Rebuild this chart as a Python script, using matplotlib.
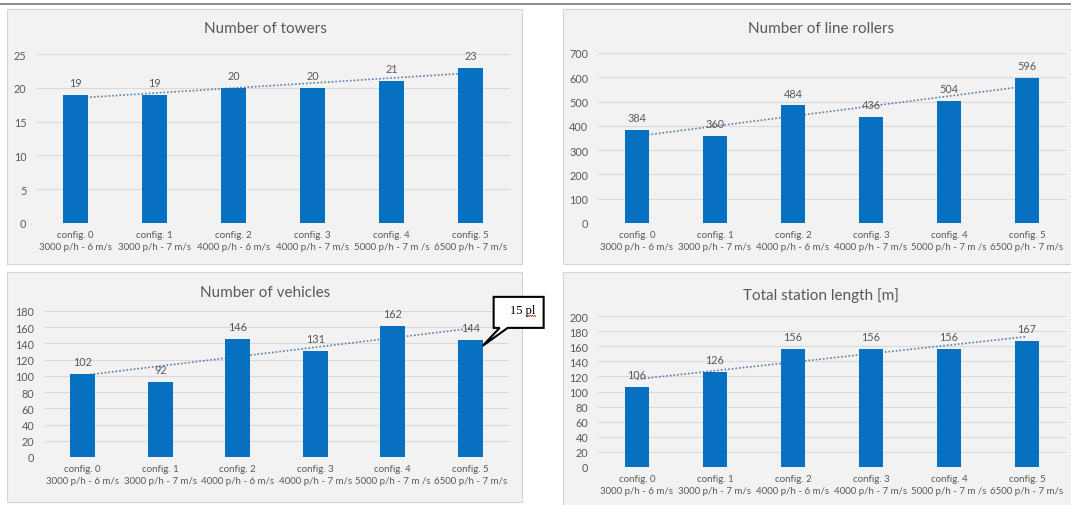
import numpy as np
import matplotlib
matplotlib.use("Agg")
import matplotlib.pyplot as plt
from matplotlib.patches import Rectangle, Polygon

# ---- data -------------------------------------------------------------
configs = ["config. 0", "config. 1", "config. 2", "config. 3", "config. 4", "config. 5"]
settings = ["3000 p/h - 6 m/s", "3000 p/h - 7 m/s", "4000 p/h - 6 m/s",
            "4000 p/h - 7 m/s", "5000 p/h - 7 m /s", "6500 p/h - 7 m/s"]

towers = [19, 19, 20, 20, 21, 23]
line_rollers = [384, 360, 484, 436, 504, 596]
vehicles = [102, 92, 146, 131, 162, 144]
station_length = [106, 126, 156, 156, 156, 167]

titles = ["Number of towers", "Number of line rollers",
          "Number of vehicles", "Total station length [m]"]
y_limits = [25, 700, 180, 200]
y_steps = [5, 100, 20, 20]

callout_text = "15 pl"

# ---- style ------------------------------------------------------------
W, H = 1071, 506
BAR = "#0870c0"
TXT = "#595959"
GRID = "#d9d9d9"
PANEL = "#f2f2f2"
TREND = "#5a7fa8"
plt.rcParams["font.family"] = ["Lato", "DejaVu Sans"]

fig = plt.figure(figsize=(W / 100, H / 100), dpi=100)
fig.patch.set_facecolor("white")


def fx(x):
    return x / W


def fy(y):
    return 1 - y / H


def panel(x0, y0, x1, y1):
    fig.patches.append(Rectangle((fx(x0), fy(y1)), (x1 - x0) / W, (y1 - y0) / H,
                                 transform=fig.transFigure, facecolor=PANEL,
                                 edgecolor="#d4d4d4", linewidth=0.8, zorder=-5))


def axes_px(x0, y0, x1, y1):
    return fig.add_axes([fx(x0), fy(y1), (x1 - x0) / W, (y1 - y0) / H])


# separator line along the top
fig.add_artist(plt.Line2D([0, 1], [fy(5), fy(5)], transform=fig.transFigure,
                          color="#8c8c8c", linewidth=1.4))

panels = [(7, 10, 522, 265), (563, 10, 1076, 265),
          (7, 273, 522, 503), (563, 273, 1076, 510)]
plot_boxes = [(36, 55, 510, 224), (598, 54, 1066, 224),
              (44, 312, 509, 458), (598, 317, 1066, 468)]
title_pos = [(265, 29), (821, 29), (265, 293), (821, 296)]
series = [towers, line_rollers, vehicles, station_length]

x = np.arange(len(configs))
tick_labels = [f"{c}\n{s}" for c, s in zip(configs, settings)]

axes = []
for pb, box, tp, vals, title, ymax, step in zip(panels, plot_boxes, title_pos,
                                                 series, titles, y_limits, y_steps):
    panel(*pb)
    ax = axes_px(*box)
    ax.set_zorder(2)
    axes.append(ax)
    ax.set_facecolor("none")
    for s in ax.spines.values():
        s.set_visible(False)
    ax.set_xlim(-0.5, len(configs) - 0.5)
    ax.set_ylim(0, ymax)
    ax.set_yticks(np.arange(0, ymax + step / 2, step))
    ax.yaxis.grid(True, color=GRID, linewidth=0.8)
    ax.set_axisbelow(True)
    ax.tick_params(length=0, labelsize=7.8, colors=TXT)
    ax.tick_params(axis="y", pad=7)
    ax.tick_params(axis="x", pad=5)
    ax.set_xticks(x)
    ax.set_xticklabels(tick_labels, fontsize=7.0, color=TXT, linespacing=1.4)

    # linear trend line behind the bars
    k, b = np.polyfit(x, vals, 1)
    ax.plot(x, k * x + b, color=TREND, linewidth=1.2,
            linestyle=(0, (1, 1.2)), zorder=1)

    bars = ax.bar(x, vals, width=0.32, color=BAR, zorder=2)
    for rect, v in zip(bars, vals):
        ax.annotate(f"{v}", (rect.get_x() + rect.get_width() / 2, v),
                    xytext=(0, 5), textcoords="offset points",
                    ha="center", va="bottom", fontsize=7.8, color=TXT, zorder=3)

    fig.text(fx(tp[0]), fy(tp[1]), title, ha="center", va="center",
             fontsize=11, color=TXT)

# callout pointing at the last vehicles bar
ax = axes[2]
fig.canvas.draw()
tx, ty = ax.transData.transform((5 + 0.16, 137))
# offsets in display pixels (y up)
shape = [(11, 18), (11, 49), (61, 49), (61, 18), (25, 18), (0, 0), (17, 18)]
pts = [(tx + dx, ty + dy) for dx, dy in shape]
fig.patches.append(Polygon(pts, closed=True, transform=None, facecolor="white",
                           edgecolor="black", linewidth=1.5, zorder=10,
                           joinstyle="miter"))
fig.text((tx + 40) / W, (ty + 36) / H, callout_text, ha="center", va="center",
         fontsize=9, family=["Liberation Serif", "DejaVu Serif"], color="black",
         zorder=11)
# spell-check squiggle under the abbreviation
sq_x = np.linspace(tx + 44, tx + 53, 10)
sq_y = ty + 30 + 0.6 * np.where(np.arange(10) % 2 == 0, 1, -1)
fig.add_artist(plt.Line2D(sq_x / W, sq_y / H, transform=fig.transFigure,
                          color="#e03030", linewidth=0.6, zorder=12))

fig.savefig("out.png", dpi=100, facecolor="white")
